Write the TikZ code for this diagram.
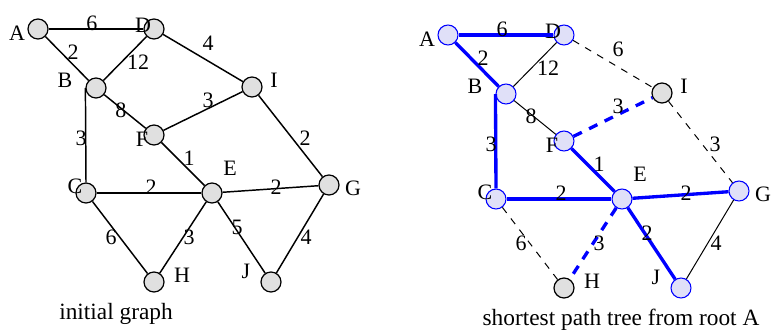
\documentclass[tikz,border=0pt]{standalone}
\usepackage{fontspec}
\setmainfont{Liberation Serif}
\usetikzlibrary{calc}
\definecolor{nodegray}{RGB}{224,224,224}
\definecolor{treefill}{RGB}{224,224,248}
\tikzset{
  vtx/.style={circle,draw,fill=nodegray,minimum size=15pt,inner sep=0pt,line width=0.9pt},
  tvtx/.style={vtx,draw=blue,line width=0.8pt,fill=treefill},
  lbl/.style={inner sep=0pt,font=\fontsize{16.5}{18}\selectfont},
  captxt/.style={inner sep=0pt,anchor=base,font=\fontsize{17.5}{20}\selectfont},
  plainedge/.style={line width=1.1pt},
  thinedge/.style={line width=0.75pt},
  tree/.style={blue,line width=2.5pt},
  treedash/.style={blue,line width=2.5pt,dash pattern=on 7pt off 6pt},
  nontree/.style={line width=0.75pt,dash pattern=on 5.25pt off 5.25pt}
}
\begin{document}
\begin{tikzpicture}[x=0.75pt,y=-0.75pt]
\useasboundingbox (0,0) rectangle (776,329);
% vertices: left graph, and the tree copy shifted to the right
\foreach \n/\x/\y/\lx/\ly/\s in {
  A/38/29/17/33/tvtx, D/154/29/143/25/tvtx, B/96/88/65/80/tvtx,
  I/252/87/274/80/vtx, F/154/135/142/139/tvtx, C/86/193/75/186/tvtx,
  E/212/193/230/168/tvtx, G/329/185/353/188/tvtx, H/154/282/182/275/vtx,
  J/271/282/246/271/tvtx}{
  \node[vtx] (l\n) at (\x,\y) {};
  \node[lbl] (l\n-txt) at (\lx,\ly) {\n};
  \begin{scope}[shift={(410,6)}]
    \node[\s] (r\n) at (\x,\y) {};
    \node[lbl] (r\n-txt) at (\lx,\ly) {\n};
  \end{scope}
}
% edges with weights (left / right)
\foreach \u/\v/\lx/\ly/\wl/\wr/\s in {
  A/D/92/23/6/6/tree, A/B/73/52/2/2/tree, B/D/138/62/12/12/thinedge,
  D/I/208/43/4/6/nontree, B/F/121/110/8/8/thinedge, F/I/208/100/3/3/treedash,
  F/E/189/158/1/1/tree, I/G/305/138/2/3/nontree,
  C/E/151/187/2/2/tree, E/G/276/187/2/2/tree, C/H/111/237/6/6/nontree,
  E/H/189/237/3/3/treedash, E/J/237/227/5/2/tree, G/J/306/237/4/4/thinedge}{
  \draw[plainedge] (l\u) -- (l\v);
  \node[lbl] (l\u\v) at (\lx,\ly) {\wl};
  \draw[\s] (r\u) -- (r\v);
  \node[lbl] (r\u\v) at ($(\lx,\ly)+(410,6)$) {\wr};
}
% B--C runs straight down from the side of B
\draw[plainedge] (lB.west) -- (lC.north);
\node[lbl] (lBC) at (81,138) {3};
\draw[tree] (rB.west) -- (rC.north);
\node[lbl] (rBC) at (491,144) {3};
\node[captxt] (lcap) at (116,319) {initial graph};
\node[captxt] (rcap) at (621,325) {shortest path tree from root A};
\end{tikzpicture}
\end{document}
